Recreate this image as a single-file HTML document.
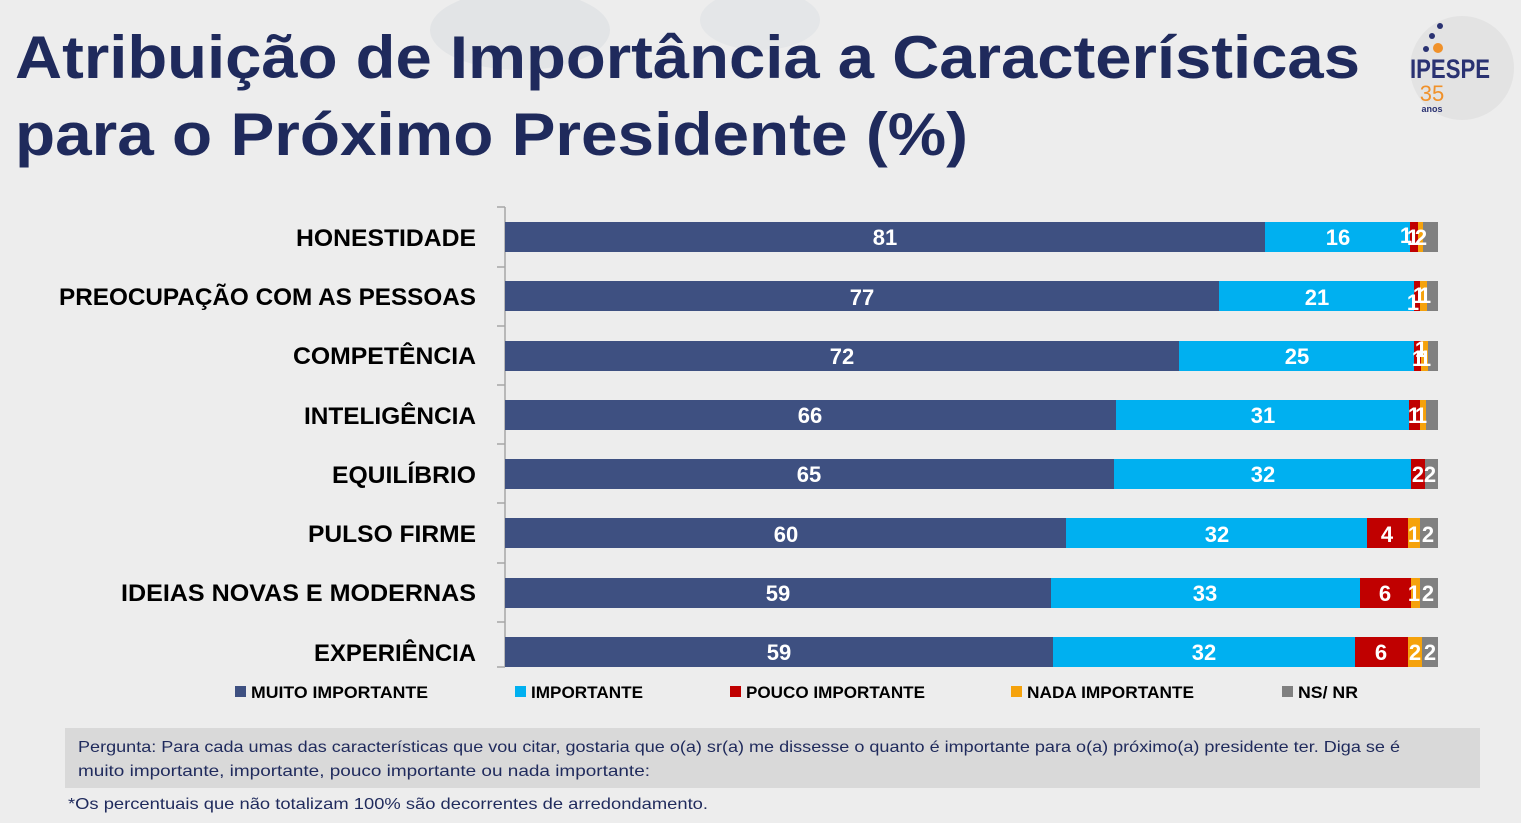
<!DOCTYPE html>
<html><head><meta charset="utf-8"><style>
html,body{margin:0;padding:0;background:#ededed;}
svg{display:block;font-family:"Liberation Sans",sans-serif;}
</style></head><body>
<svg width="1521" height="823" viewBox="0 0 1521 823">
<rect width="1521" height="823" fill="#ededed"/>
<ellipse cx="520" cy="30" rx="90" ry="40" fill="#e2e4e6"/>
<ellipse cx="760" cy="20" rx="60" ry="30" fill="#e4e6e8"/>
<!-- logo -->
<circle cx="1462" cy="68" r="52" fill="#e3e3e3"/>
<text x="1450" y="78" font-size="27" font-weight="bold" fill="#2a3272" text-anchor="middle" textLength="80" lengthAdjust="spacingAndGlyphs">IPESPE</text>
<text x="1432" y="101" font-size="22" fill="#f0912a" text-anchor="middle">35</text>
<text x="1432" y="112" font-size="9" font-weight="bold" fill="#2a3272" text-anchor="middle">anos</text>
<circle cx="1438" cy="48" r="5" fill="#f0912a"/>
<circle cx="1426" cy="49" r="3" fill="#2a3272"/><circle cx="1432" cy="36" r="3" fill="#2a3272"/><circle cx="1440" cy="26" r="3" fill="#2a3272"/>
<!-- title -->
<g font-weight="bold" fill="#1f2a5c" font-size="60">
<text x="15" y="78" textLength="1345" lengthAdjust="spacingAndGlyphs">Atribuição de Importância a Características</text>
<text x="15" y="155" textLength="953" lengthAdjust="spacingAndGlyphs">para o Próximo Presidente (%)</text>
</g>
<!-- axis -->
<g stroke="#a6a6a6" stroke-width="1.5">
<line x1="505" y1="207" x2="505" y2="667"/>
<line x1="497" y1="207" x2="505" y2="207"/><line x1="497" y1="267" x2="505" y2="267"/><line x1="497" y1="326" x2="505" y2="326"/><line x1="497" y1="385" x2="505" y2="385"/><line x1="497" y1="444" x2="505" y2="444"/><line x1="497" y1="503" x2="505" y2="503"/><line x1="497" y1="563" x2="505" y2="563"/><line x1="497" y1="622" x2="505" y2="622"/><line x1="497" y1="667" x2="505" y2="667"/>
</g>
<!-- labels -->
<g font-weight="bold" font-size="24" fill="#000" text-anchor="end">
<text x="476" y="246" textLength="180" lengthAdjust="spacingAndGlyphs">HONESTIDADE</text>
<text x="476" y="305" textLength="417" lengthAdjust="spacingAndGlyphs">PREOCUPAÇÃO COM AS PESSOAS</text>
<text x="476" y="364" textLength="183" lengthAdjust="spacingAndGlyphs">COMPETÊNCIA</text>
<text x="476" y="424" textLength="172" lengthAdjust="spacingAndGlyphs">INTELIGÊNCIA</text>
<text x="476" y="483" textLength="144" lengthAdjust="spacingAndGlyphs">EQUILÍBRIO</text>
<text x="476" y="542" textLength="168" lengthAdjust="spacingAndGlyphs">PULSO FIRME</text>
<text x="476" y="601" textLength="355" lengthAdjust="spacingAndGlyphs">IDEIAS NOVAS E MODERNAS</text>
<text x="476" y="661" textLength="162" lengthAdjust="spacingAndGlyphs">EXPERIÊNCIA</text>
</g>
<!-- bars -->
<g id="bars">
<!-- row1 y 222 -->
<rect x="505" y="222" width="760" height="30" fill="#3e5081"/><rect x="1265" y="222" width="145" height="30" fill="#00b0f0"/><rect x="1410" y="222" width="8" height="30" fill="#c00000"/><rect x="1418" y="222" width="5" height="30" fill="#f5a20c"/><rect x="1423" y="222" width="15" height="30" fill="#808080"/>
<rect x="505" y="281" width="714" height="30" fill="#3e5081"/><rect x="1219" y="281" width="195" height="30" fill="#00b0f0"/><rect x="1414" y="281" width="6" height="30" fill="#c00000"/><rect x="1420" y="281" width="7" height="30" fill="#f5a20c"/><rect x="1427" y="281" width="11" height="30" fill="#808080"/>
<rect x="505" y="341" width="674" height="30" fill="#3e5081"/><rect x="1179" y="341" width="235" height="30" fill="#00b0f0"/><rect x="1414" y="341" width="7" height="30" fill="#c00000"/><rect x="1421" y="341" width="7" height="30" fill="#f5a20c"/><rect x="1428" y="341" width="10" height="30" fill="#808080"/>
<rect x="505" y="400" width="611" height="30" fill="#3e5081"/><rect x="1116" y="400" width="293" height="30" fill="#00b0f0"/><rect x="1409" y="400" width="11" height="30" fill="#c00000"/><rect x="1420" y="400" width="6" height="30" fill="#f5a20c"/><rect x="1426" y="400" width="12" height="30" fill="#808080"/>
<rect x="505" y="459" width="609" height="30" fill="#3e5081"/><rect x="1114" y="459" width="297" height="30" fill="#00b0f0"/><rect x="1411" y="459" width="14" height="30" fill="#c00000"/><rect x="1425" y="459" width="13" height="30" fill="#808080"/>
<rect x="505" y="518" width="561" height="30" fill="#3e5081"/><rect x="1066" y="518" width="301" height="30" fill="#00b0f0"/><rect x="1367" y="518" width="41" height="30" fill="#c00000"/><rect x="1408" y="518" width="12" height="30" fill="#f5a20c"/><rect x="1420" y="518" width="18" height="30" fill="#808080"/>
<rect x="505" y="578" width="546" height="30" fill="#3e5081"/><rect x="1051" y="578" width="309" height="30" fill="#00b0f0"/><rect x="1360" y="578" width="51" height="30" fill="#c00000"/><rect x="1411" y="578" width="9" height="30" fill="#f5a20c"/><rect x="1420" y="578" width="18" height="30" fill="#808080"/>
<rect x="505" y="637" width="548" height="30" fill="#3e5081"/><rect x="1053" y="637" width="302" height="30" fill="#00b0f0"/><rect x="1355" y="637" width="53" height="30" fill="#c00000"/><rect x="1408" y="637" width="14" height="30" fill="#f5a20c"/><rect x="1422" y="637" width="16" height="30" fill="#808080"/>
</g>
<g font-weight="bold" font-size="22" fill="#fff" text-anchor="middle">
<text x="885" y="245">81</text><text x="1338" y="245">16</text><text x="1406" y="243">1</text><text x="1413" y="245">1</text><text x="1421" y="245">2</text>
<text x="862" y="305">77</text><text x="1317" y="305">21</text><text x="1413" y="310">1</text><text x="1419" y="303">1</text><text x="1425" y="303">1</text>
<text x="842" y="364">72</text><text x="1297" y="364">25</text><text x="1421" y="357">1</text><text x="1418" y="366">1</text><text x="1425" y="366">1</text>
<text x="810" y="423">66</text><text x="1263" y="423">31</text><text x="1414" y="423">1</text><text x="1421" y="423">1</text>
<text x="809" y="482">65</text><text x="1263" y="482">32</text><text x="1418" y="482">2</text><text x="1430" y="482">2</text>
<text x="786" y="542">60</text><text x="1217" y="542">32</text><text x="1387" y="542">4</text><text x="1414" y="542">1</text><text x="1428" y="542">2</text>
<text x="778" y="601">59</text><text x="1205" y="601">33</text><text x="1385" y="601">6</text><text x="1414" y="601">1</text><text x="1428" y="601">2</text>
<text x="779" y="660">59</text><text x="1204" y="660">32</text><text x="1381" y="660">6</text><text x="1415" y="660">2</text><text x="1430" y="660">2</text>
</g>
<!-- legend -->
<g font-weight="bold" font-size="17" fill="#000">
<rect x="235" y="686" width="11" height="11" fill="#3e5081"/><text x="251" y="698" textLength="177" lengthAdjust="spacingAndGlyphs">MUITO IMPORTANTE</text>
<rect x="515" y="686" width="11" height="11" fill="#00b0f0"/><text x="531" y="698" textLength="112" lengthAdjust="spacingAndGlyphs">IMPORTANTE</text>
<rect x="730" y="686" width="11" height="11" fill="#c00000"/><text x="746" y="698" textLength="179" lengthAdjust="spacingAndGlyphs">POUCO IMPORTANTE</text>
<rect x="1011" y="686" width="11" height="11" fill="#f5a20c"/><text x="1027" y="698" textLength="167" lengthAdjust="spacingAndGlyphs">NADA IMPORTANTE</text>
<rect x="1282" y="686" width="11" height="11" fill="#808080"/><text x="1298" y="698" textLength="60" lengthAdjust="spacingAndGlyphs">NS/ NR</text>
</g>
<!-- footer -->
<rect x="65" y="728" width="1415" height="60" fill="#d9d9d9"/>
<g font-size="16" fill="#1f2a5c">
<text x="78" y="752" textLength="1322" lengthAdjust="spacingAndGlyphs">Pergunta:  Para cada umas das características que vou citar, gostaria que o(a) sr(a) me dissesse o quanto é importante para o(a) próximo(a) presidente ter. Diga se é</text>
<text x="78" y="776" textLength="572" lengthAdjust="spacingAndGlyphs">muito importante, importante, pouco importante ou nada importante:</text>
<text x="68" y="809" textLength="640" lengthAdjust="spacingAndGlyphs">*Os percentuais que não totalizam 100% são decorrentes de arredondamento.</text>
</g>
</svg>
</body></html>
